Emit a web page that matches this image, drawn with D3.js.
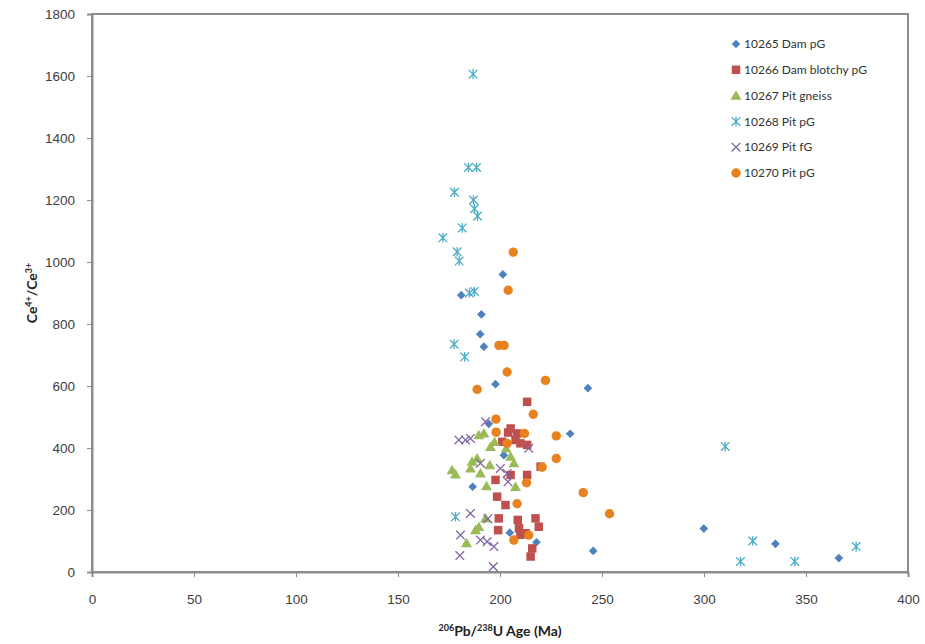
<!DOCTYPE html>
<html>
<head>
<meta charset="utf-8">
<style>
    body { margin: 0; background: #fff; }
    svg { font-family: Lato, "Open Sans", sans-serif; }
    .axis text { font-size: 13.5px; fill: #404040; }
    .axis path, .axis line { stroke: #8c8c8c; }
    .title { font-size: 14px; font-weight: bold; fill: #222; }
    .legend text { font-size: 12px; fill: #333; }
</style>
</head>
<body>
<svg width="925" height="644"></svg>
<script src="https://d3js.org/d3.v7.min.js"></script>
<script>
    // x = 206Pb/238U age (Ma), y = Ce4+/Ce3+
    let dam265 = [[201.4,960],[181,893],[190.9,831],[190.3,767],[192.1,727],[197.8,606],[243.1,593],
        [234.4,446],[194.5,478],[186.6,275],[201.9,377],[204.8,127],[217.9,96],[245.7,68],
        [299.9,140],[335,91],[366.1,45]]
    let dam266 = [[213.3,549],[205.2,463],[208.4,447],[207.6,426],[210,415],[201.1,420],[213.3,410],
        [219.9,340],[213.3,313],[205.2,313],[197.8,297],[198.6,243],[202.7,216],[199.4,173],
        [199.1,135],[208.7,168],[209.3,141],[210,120],[212.5,125],[217.4,173],[219,146],
        [215.8,76],[215,50],[204,450]]
    let gneiss267 = [[176.5,329],[178.2,315],[185.5,334],[186.3,356],[188.8,367],[190.4,318],[193.4,277],
        [195,345],[189.6,442],[192.1,447],[195.3,404],[197.3,420],[207.6,275],[205.2,372],
        [206.8,351],[192.9,173],[189.6,146],[188,135],[183.6,93],[203,399]]
    let pit268 = [[186.8,1606],[184.5,1305],[188.5,1305],[177.7,1225],[187,1200],[187.5,1172],[189,1148],
        [181.5,1110],[172,1078],[179,1033],[180,1003],[185,900],[187.5,905],[177.5,735],
        [182.7,694],[178.2,178],[310.4,405],[323.9,100],[317.9,34],[344.5,34],[374.6,82]]
    let fg269 = [[179.8,426],[183.1,426],[185.5,431],[192.9,485],[190.4,351],[200.2,334],[203.5,318],
        [214.1,399],[203.9,291],[185.5,189],[194,172],[180.6,119],[190.4,103],[193.7,98],
        [197,82],[180.3,53],[196.7,17]]
    let pit270 = [[206.5,1032],[204,909],[199.5,731],[202,731],[203.5,645],[222.3,618],[188.8,589],
        [216.3,509],[198,493],[198.1,451],[212,447],[203.5,415],[227.6,439],[227.6,366],
        [220.7,338],[213,288],[208.4,220],[214.1,119],[206.8,103],[240.8,256],[253.7,188]]

    let xTicks = [0, 50, 100, 150, 200, 250, 300, 350, 400]
    let yTicks = [0, 200, 400, 600, 800, 1000, 1200, 1400, 1600, 1800]

    let series = [
        { name: "10265 Dam pG", data: dam265, kind: "diamond", color: "#4f81bd" },
        { name: "10266 Dam blotchy pG", data: dam266, kind: "square", color: "#c0504d" },
        { name: "10267 Pit gneiss", data: gneiss267, kind: "triangle", color: "#9bbb59" },
        { name: "10268 Pit pG", data: pit268, kind: "star", color: "#4bacc6" },
        { name: "10269 Pit fG", data: fg269, kind: "x", color: "#8064a2" },
        { name: "10270 Pit pG", data: pit270, kind: "circle", color: "#e8821e" }
    ]

    let plotLeft = 92, plotTop = 14, plotRight = 908, plotBottom = 572
    let svg = d3.select("svg")

    let x = d3.scaleLinear().domain([0, 400]).range([plotLeft, plotRight])
    let y = d3.scaleLinear().domain([0, 1800]).range([plotBottom, plotTop])

    // plot frame
    svg.append("rect")
        .attr("x", plotLeft).attr("y", plotTop)
        .attr("width", plotRight - plotLeft).attr("height", plotBottom - plotTop)
        .attr("fill", "none").attr("stroke", "#8c8c8c").attr("stroke-width", 2)

    svg.append("g")
        .attr("class", "axis")
        .attr("transform", `translate(0,${plotBottom})`)
        .call(d3.axisBottom(x).tickValues(xTicks).tickFormat(d3.format("d")).tickSize(5).tickPadding(17))
        .call(g => g.select(".domain").attr("stroke-width", 2))

    svg.append("g")
        .attr("class", "axis")
        .attr("transform", `translate(${plotLeft},0)`)
        .call(d3.axisLeft(y).tickValues(yTicks).tickFormat(d3.format("d")).tickSize(5).tickPadding(12))
        .call(g => g.select(".domain").attr("stroke-width", 2))

    // axis titles
    let xt = svg.append("text").attr("class", "title")
        .attr("x", 500).attr("y", 636).attr("text-anchor", "middle")
    xt.append("tspan").attr("font-size", "9px").attr("dy", "-5").text("206")
    xt.append("tspan").attr("dy", "5").text("Pb/")
    xt.append("tspan").attr("font-size", "9px").attr("dy", "-5").text("238")
    xt.append("tspan").attr("dy", "5").text("U Age (Ma)")

    let yt = svg.append("text").attr("class", "title")
        .attr("transform", `translate(37,${(plotTop + plotBottom) / 2}) rotate(-90)`)
        .attr("text-anchor", "middle")
    yt.append("tspan").text("Ce")
    yt.append("tspan").attr("font-size", "9px").attr("dy", "-5").text("4+")
    yt.append("tspan").attr("dy", "5").text("/Ce")
    yt.append("tspan").attr("font-size", "9px").attr("dy", "-5").text("3+")

    function marker(g, kind, color) {
        if (kind === "diamond") {
            g.append("path").attr("d", d3.symbol(d3.symbolSquare, 38)())
                .attr("transform", "rotate(45)").attr("fill", color)
        } else if (kind === "square") {
            g.append("path").attr("d", d3.symbol(d3.symbolSquare, 72)()).attr("fill", color)
        } else if (kind === "triangle") {
            g.append("path").attr("d", d3.symbol(d3.symbolTriangle, 52)())
                .attr("transform", "translate(0,1)").attr("fill", color)
        } else if (kind === "circle") {
            g.append("circle").attr("r", 4.7).attr("fill", color)
        } else {
            let s = 4.3
            let p = `M${-s},${-s}L${s},${s}M${-s},${s}L${s},${-s}`
            if (kind === "star") p += `M0,${-s - 0.5}L0,${s + 0.5}`
            g.append("path").attr("d", p).attr("stroke", color)
                .attr("stroke-width", 1.3).attr("fill", "none")
        }
    }

    series.forEach(s => {
        svg.append("g")
            .selectAll("g")
            .data(s.data)
            .join("g")
            .attr("transform", d => `translate(${x(d[0])},${y(d[1])})`)
            .each(function () { marker(d3.select(this), s.kind, s.color) })
    })

    // legend
    let legend = svg.append("g").attr("class", "legend")
        .selectAll("g")
        .data(series)
        .join("g")
        .attr("transform", (d, i) => `translate(736,${44 + i * 25.8})`)
    legend.each(function (d) { marker(d3.select(this), d.kind, d.color) })
    legend.append("text").attr("x", 8).attr("dy", "0.35em").text(d => d.name)
</script>
</body>
</html>
